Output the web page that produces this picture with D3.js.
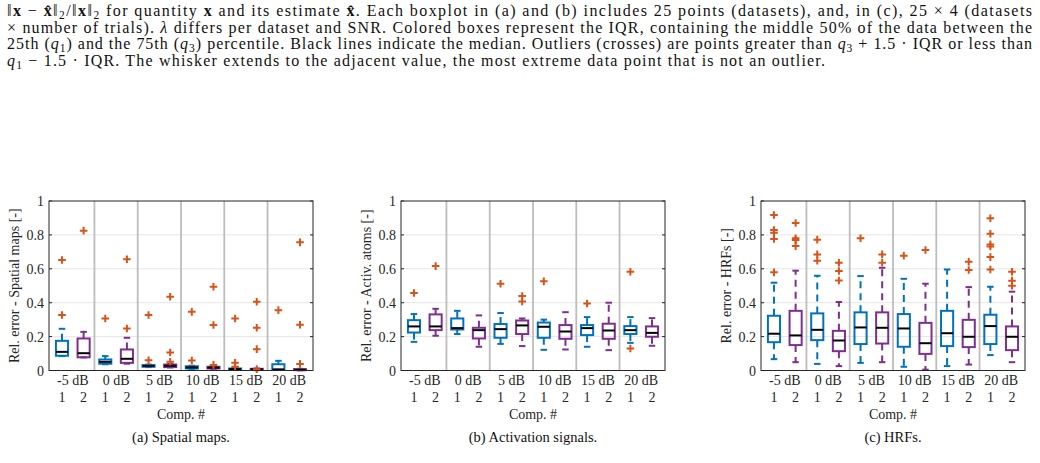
<!DOCTYPE html>
<html><head><meta charset="utf-8">
<script src="https://cdn.jsdelivr.net/npm/d3@7"></script>
<style>body{margin:0;background:#fff}svg{display:block}</style>
</head><body>
<svg id="c" width="1040" height="463"></svg>
<script>
// ---- data ----
const groups = ["-5 dB", "0 dB", "5 dB", "10 dB", "15 dB", "20 dB"];
const comps = ["1", "2"];
const yTicks = [0, 0.2, 0.4, 0.6, 0.8, 1];
const yTickLabels = ["0", "0.2", "0.4", "0.6", "0.8", "1"];

// box stats per box: [lower adjacent, q1, median, q3, upper adjacent]
const spatialStats = [
  [0.085, 0.087, 0.11, 0.175, 0.246], [0.077, 0.078, 0.102, 0.189, 0.228],
  [0.037, 0.04, 0.051, 0.065, 0.085], [0.04, 0.045, 0.069, 0.124, 0.193],
  [0.02, 0.022, 0.027, 0.032, 0.035], [0.018, 0.02, 0.028, 0.035, 0.038],
  [0.01, 0.012, 0.018, 0.025, 0.028], [0.01, 0.012, 0.017, 0.022, 0.025],
  [0.004, 0.005, 0.008, 0.012, 0.014], [0.002, 0.003, 0.007, 0.01, 0.012],
  [0.004, 0.005, 0.006, 0.037, 0.057], [0.001, 0.002, 0.004, 0.008, 0.01]
];
const spatialOutliers = [
  [0.652, 0.327], [0.825], [0.307], [0.656, 0.248], [0.327, 0.06], [0.435, 0.106, 0.052],
  [0.346, 0.059], [0.494, 0.268, 0.033], [0.307, 0.045, 0.022], [0.406, 0.252, 0.126, 0.008],
  [0.356], [0.756, 0.27, 0.039]
];
const activStats = [
  [0.169, 0.224, 0.26, 0.297, 0.333], [0.205, 0.238, 0.26, 0.331, 0.364],
  [0.215, 0.242, 0.25, 0.307, 0.352], [0.14, 0.189, 0.238, 0.252, 0.325],
  [0.157, 0.193, 0.244, 0.274, 0.339], [0.144, 0.215, 0.266, 0.295, 0.307],
  [0.122, 0.193, 0.258, 0.283, 0.3], [0.124, 0.187, 0.23, 0.268, 0.344],
  [0.14, 0.209, 0.25, 0.268, 0.315], [0.12, 0.187, 0.236, 0.276, 0.4],
  [0.163, 0.215, 0.238, 0.262, 0.315], [0.146, 0.199, 0.222, 0.26, 0.309]
];
const activOutliers = [
  [0.457], [0.616], [], [], [0.512], [0.439, 0.407], [0.526], [], [0.395], [], [0.583, 0.13], []
];
const hrfStats = [
  [0.067, 0.167, 0.217, 0.323, 0.518], [0.049, 0.15, 0.207, 0.352, 0.589],
  [0.039, 0.179, 0.24, 0.337, 0.559], [0.026, 0.114, 0.177, 0.234, 0.404],
  [0.045, 0.156, 0.254, 0.343, 0.557], [0.049, 0.159, 0.252, 0.343, 0.606],
  [0.022, 0.14, 0.248, 0.333, 0.541], [0.005, 0.098, 0.161, 0.281, 0.512],
  [0.026, 0.144, 0.22, 0.352, 0.596], [0.035, 0.138, 0.199, 0.299, 0.492],
  [0.091, 0.156, 0.262, 0.329, 0.494], [0.049, 0.12, 0.199, 0.26, 0.465]
];
const hrfOutliers = [
  [0.917, 0.829, 0.813, 0.776, 0.579], [0.87, 0.78, 0.77, 0.734], [0.772, 0.685, 0.648],
  [0.636, 0.587, 0.531], [0.78], [0.685, 0.636], [0.677], [0.711], [], [0.642, 0.593],
  [0.898, 0.807, 0.744, 0.732, 0.669, 0.596], [0.583, 0.53, 0.5]
];
const yLabels = ["Rel. error - Spatial maps [-]", "Rel. error - Activ. atoms [-]", "Rel. error - HRFs [-]"];
const captions = ["(a) Spatial maps.", "(b) Activation signals.", "(c) HRFs."];

// ---- drawing ----
const svg = d3.select("#c");
const FONT = "'Liberation Serif', 'Times New Roman', serif";
const colors = ["#0072BD", "#7E2F8E"];
const outColor = "#D95319";
const axisColor = "#262626";

const panels = [
  {x0: 49, stats: spatialStats, outs: spatialOutliers},
  {x0: 401, stats: activStats, outs: activOutliers},
  {x0: 761, stats: hrfStats, outs: hrfOutliers}
];
const W = 264, yTop = 201, yBot = 370.5;

panels.forEach((p, pi) => {
  const x = d3.scaleLinear().domain([0.4, 12.6]).range([p.x0, p.x0 + W]);
  const y = d3.scaleLinear().domain([0, 1]).range([yBot, yTop]);
  const g = svg.append("g");
  const unit = x(2) - x(1);
  const bw = 0.56 * unit, cw = 0.3 * unit;

  g.selectAll(".grid").data(yTicks.slice(1, -1)).join("line")
    .attr("x1", x.range()[0]).attr("x2", x.range()[1])
    .attr("y1", d => y(d)).attr("y2", d => y(d))
    .attr("stroke", "#e6e6e6").attr("stroke-width", 1);
  const seps = d3.range(1, groups.length).map(k => k * comps.length + 0.5);
  g.selectAll(".sep").data(seps).join("line")
    .attr("x1", d => x(d)).attr("x2", d => x(d))
    .attr("y1", yTop).attr("y2", yBot)
    .attr("stroke", "#bdbdbd").attr("stroke-width", 1.8);

  const boxes = p.stats.map((s, i) => ({pos: i + 1, s, outs: p.outs[i], col: colors[i % 2]}));
  const bg = g.selectAll(".box").data(boxes).join("g");
  bg.append("line").attr("x1", d => x(d.pos)).attr("x2", d => x(d.pos))
    .attr("y1", d => y(d.s[3])).attr("y2", d => y(d.s[4]))
    .attr("stroke", d => d.col).attr("stroke-width", 2).attr("stroke-dasharray", "7,5");
  bg.append("line").attr("x1", d => x(d.pos)).attr("x2", d => x(d.pos))
    .attr("y1", d => y(d.s[1])).attr("y2", d => y(d.s[0]))
    .attr("stroke", d => d.col).attr("stroke-width", 2).attr("stroke-dasharray", "7,5");
  [0, 4].forEach(k => {
    bg.append("line").attr("x1", d => x(d.pos) - cw / 2).attr("x2", d => x(d.pos) + cw / 2)
      .attr("y1", d => y(d.s[k])).attr("y2", d => y(d.s[k]))
      .attr("stroke", d => d.col).attr("stroke-width", 2);
  });
  bg.append("rect").attr("x", d => x(d.pos) - bw / 2).attr("width", bw)
    .attr("y", d => y(d.s[3])).attr("height", d => y(d.s[1]) - y(d.s[3]))
    .attr("fill", "none").attr("stroke", d => d.col).attr("stroke-width", 2);
  bg.append("line").attr("x1", d => x(d.pos) - bw / 2).attr("x2", d => x(d.pos) + bw / 2)
    .attr("y1", d => y(d.s[2])).attr("y2", d => y(d.s[2]))
    .attr("stroke", "#000").attr("stroke-width", 2);
  const ms = 3.8;
  bg.each(function(d) {
    d3.select(this).selectAll(".o").data(d.outs).join("path")
      .attr("d", v => `M${x(d.pos) - ms},${y(v)}H${x(d.pos) + ms}M${x(d.pos)},${y(v) - ms}V${y(v) + ms}`)
      .attr("stroke", outColor).attr("stroke-width", 2).attr("fill", "none");
  });

  g.append("rect").attr("x", x.range()[0]).attr("y", yTop)
    .attr("width", W).attr("height", yBot - yTop)
    .attr("fill", "none").attr("stroke", axisColor).attr("stroke-width", 1);
  g.selectAll(".tl").data(yTicks).join("line")
    .attr("x1", x.range()[0]).attr("x2", x.range()[0] + 3)
    .attr("y1", d => y(d)).attr("y2", d => y(d)).attr("stroke", axisColor);
  g.selectAll(".tr").data(yTicks).join("line")
    .attr("x1", x.range()[1]).attr("x2", x.range()[1] - 3)
    .attr("y1", d => y(d)).attr("y2", d => y(d)).attr("stroke", axisColor);
  g.selectAll(".ytl").data(yTicks).join("text")
    .attr("x", x.range()[0] - 5).attr("y", d => y(d) + 5)
    .attr("text-anchor", "end").attr("font-family", FONT).attr("font-size", 14)
    .attr("fill", axisColor).text((d, i) => yTickLabels[i]);
  g.selectAll(".gl").data(groups).join("text")
    .attr("x", (d, k) => x(k * 2 + 1.5)).attr("y", 385)
    .attr("text-anchor", "middle").attr("font-family", FONT).attr("font-size", 14)
    .attr("fill", axisColor).text(d => d);
  g.selectAll(".cl").data(boxes).join("text")
    .attr("x", d => x(d.pos)).attr("y", 402)
    .attr("text-anchor", "middle").attr("font-family", FONT).attr("font-size", 14)
    .attr("fill", axisColor).text((d, i) => comps[i % 2]);
  g.append("text").attr("x", p.x0 + W / 2).attr("y", 419)
    .attr("text-anchor", "middle").attr("font-family", FONT).attr("font-size", 14)
    .attr("fill", axisColor).text("Comp. #");
  g.append("text")
    .attr("transform", `translate(${p.x0 - 34},${(yTop + yBot) / 2}) rotate(-90)`)
    .attr("dy", 4)
    .attr("text-anchor", "middle").attr("font-family", FONT).attr("font-size", 14)
    .attr("fill", axisColor).text(yLabels[pi]);
  g.append("text").attr("x", p.x0 + W / 2).attr("y", 442)
    .attr("text-anchor", "middle").attr("font-family", FONT).attr("font-size", 14.5)
    .attr("fill", "#111").text(captions[pi]);
});

// ---- paragraph above ----
const B = "b", I = "i", S = "s";
const para = [
  [["‖"], ["x", B], [" − "], ["x̂", B], ["‖"], ["2", S], ["/‖"], ["x", B], ["‖"], ["2", S],
   [" for quantity "], ["x", B], [" and its estimate "], ["x̂", B],
   [". Each boxplot in (a) and (b) includes 25 points (datasets), and, in (c), 25 × 4 (datasets"]],
  [["× number of trials). "], ["λ", I], [" differs per dataset and SNR. Colored boxes represent the IQR, containing the middle 50% of the data between the"]],
  [["25th ("], ["q", I], ["1", S], [") and the 75th ("], ["q", I], ["3", S],
   [") percentile. Black lines indicate the median. Outliers (crosses) are points greater than "],
   ["q", I], ["3", S], [" + 1.5 · IQR or less than"]],
  [["q", I], ["1", S], [" − 1.5 · IQR. The whisker extends to the adjacent value, the most extreme data point that is not an outlier."]]
];
const baseY = [16, 32.5, 49, 65.5];
const lineW = [1025, 1025, 1025, 818];
para.forEach((segs, li) => {
  const t = svg.append("text").attr("x", 7).attr("y", baseY[li])
    .attr("font-family", FONT).attr("font-size", 16).attr("fill", "#111");
  let shifted = false;
  segs.forEach(([txt, st]) => {
    const ts = t.append("tspan").text(txt);
    if (st === B) ts.attr("font-weight", "bold");
    if (st === I) ts.attr("font-style", "italic");
    if (st === S) { ts.attr("font-size", "72%").attr("dy", 3); shifted = true; }
    else if (shifted) { ts.attr("dy", -3); shifted = false; }
  });
  t.attr("textLength", lineW[li]).attr("lengthAdjust", "spacing");
});
</script>
</body></html>
